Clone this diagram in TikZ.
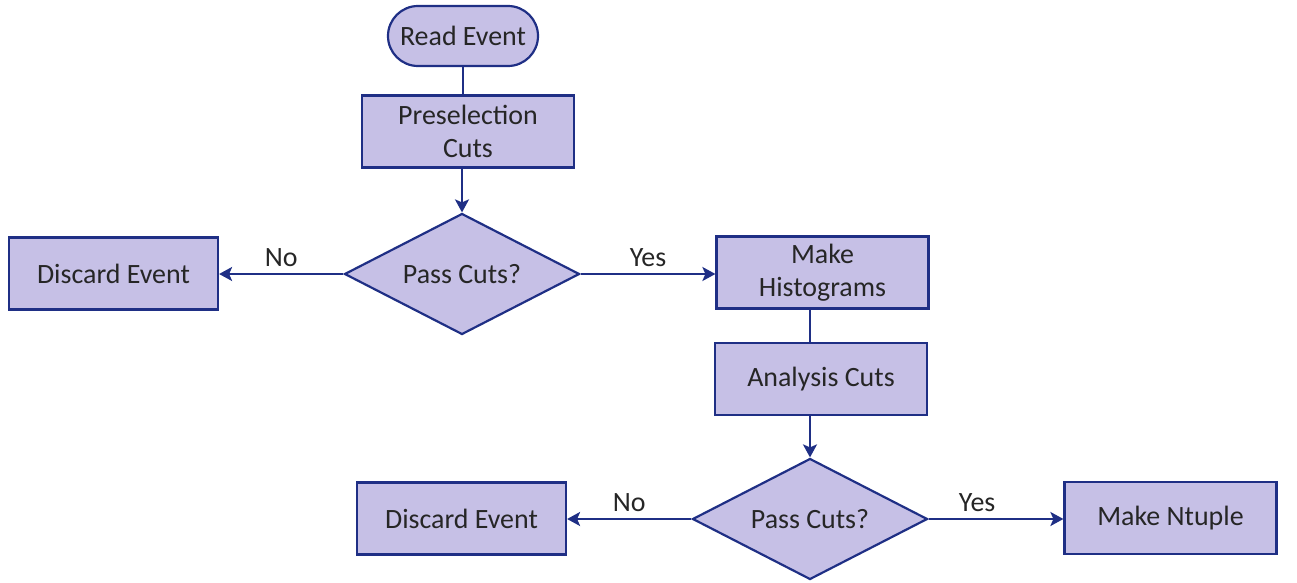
\documentclass[tikz,border=0pt]{standalone}
\usepackage{fontspec}
\setmainfont{Carlito}
\usetikzlibrary{shapes.geometric, arrows.meta, positioning}

\definecolor{boxfill}{HTML}{C6C0E6}
\definecolor{boxline}{HTML}{1F2F85}
\definecolor{boxtext}{HTML}{262626}

\begin{document}
\begin{tikzpicture}[
    font=\fontsize{15.9}{18.8}\selectfont,
    every node/.style={text=boxtext},
    proc/.style={rectangle, draw=boxline, fill=boxfill, line width=1.25pt, minimum width=4.24cm, minimum height=1.44cm, inner sep=2pt, align=center},
    start/.style={rectangle, draw=boxline, fill=boxfill, line width=1.25pt, rounded corners=0.6cm, minimum width=3cm, minimum height=1.2cm, inner sep=2pt},
    decision/.style={diamond, draw=boxline, fill=boxfill, line width=1.25pt, aspect=1.9, minimum width=4.7cm, minimum height=2.42cm, inner sep=0pt},
    arrow/.style={-{Stealth[length=2.6mm, width=2.8mm, inset=0.6mm]}, draw=boxline, line width=1.25pt},
    link/.style={draw=boxline, line width=1.25pt},
]
\useasboundingbox (0,0) rectangle (25.94,-11.66);

% Top branch
\node[start] (read) at (9.26,-0.72) {Read Event};
\node[proc] (presel) at (9.36,-2.63) {Preselection\\Cuts};
\node[decision] (pass1) at (9.24,-5.48) {Pass Cuts?};
\node[proc, minimum width=4.18cm] (discard1) at (2.27,-5.47) {Discard Event};
\node[proc] (hist) at (16.45,-5.45) {Make\\Histograms};

% Analysis branch
\node[proc] (anal) at (16.42,-7.58) {Analysis Cuts};
\node[decision] (pass2) at (16.2,-10.38) {Pass Cuts?};
\node[proc, minimum width=4.18cm] (discard2) at (9.23,-10.37) {Discard Event};
\node[proc] (ntuple) at (23.41,-10.36) {Make Ntuple};

% Connections
\draw[link] (read.south) -- (read.south |- presel.north);
\draw[arrow] (presel.south -| pass1.north) -- (pass1.north);
\draw[arrow] (pass1.west) -- node[above] {No} (discard1.east |- pass1.west);
\draw[arrow] (pass1.east) -- node[above] {Yes} (hist.west |- pass1.east);
\draw[link] (hist.south -| pass2.north) -- (anal.north -| pass2.north);
\draw[arrow] (anal.south -| pass2.north) -- (pass2.north);
\draw[arrow] (pass2.west) -- node[above] {No} (discard2.east |- pass2.west);
\draw[arrow] (pass2.east) -- node[above, pos=0.36] {Yes} (ntuple.west |- pass2.east);

\end{tikzpicture}
\end{document}
